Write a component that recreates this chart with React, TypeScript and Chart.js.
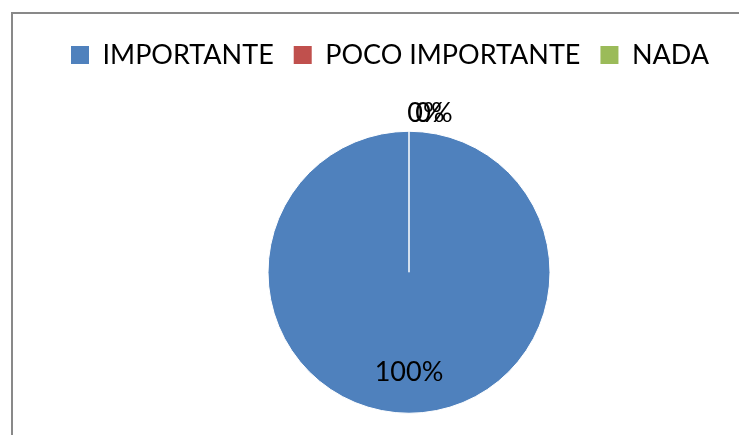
import React, { useEffect, useRef } from 'react';
import { Chart, registerables } from 'chart.js';
Chart.register(...registerables);

const categories = ['IMPORTANTE', 'POCO IMPORTANTE', 'NADA'];
const values = [100, 0, 0];
const colors = ['#4F81BD', '#C0504D', '#9BBB59'];
const FONT = 'Lato, "Open Sans", sans-serif';

const labelPlugin = {
  id: 'pctLabels',
  afterDatasetsDraw(chart: any) {
    const ctx = chart.ctx;
    const meta = chart.getDatasetMeta(0);
    const data = chart.data.datasets[0].data as number[];
    const total = data.reduce((a, b) => a + b, 0);
    ctx.save();
    ctx.font = `27px ${FONT}`;
    ctx.fillStyle = '#000';
    ctx.textAlign = 'center';
    ctx.textBaseline = 'middle';
    let zeroIdx = 0;
    meta.data.forEach((el: any, i: number) => {
      const { x, y, startAngle, endAngle, outerRadius } = el.getProps(
        ['x', 'y', 'startAngle', 'endAngle', 'outerRadius'],
        true
      );
      const v = data[i];
      const txt = Math.round((v / total) * 100) + '%';
      if (v > 0) {
        const mid = (startAngle + endAngle) / 2;
        const r = outerRadius * 0.71;
        ctx.fillText(txt, x + Math.cos(mid) * r, y + Math.sin(mid) * r);
      } else {
        const r = outerRadius + 18;
        ctx.fillText(txt, x + Math.cos(startAngle) * r + 17 + zeroIdx * 8, y + Math.sin(startAngle) * r);
        zeroIdx++;
      }
    });
    ctx.restore();
  },
};

export default function App() {
  const ref = useRef<HTMLCanvasElement>(null);
  useEffect(() => {
    if (!ref.current) return;
    const chart = new Chart(ref.current, {
      type: 'pie',
      data: {
        labels: categories,
        datasets: [
          {
            data: values,
            backgroundColor: colors,
            borderColor: '#ffffff',
            borderWidth: 1,
            radius: 141,
          },
        ],
      },
      options: {
        responsive: false,
        animation: false,
        devicePixelRatio: 1,
        layout: { padding: { left: 51, right: 0, top: 21.5, bottom: 0 } },
        plugins: {
          tooltip: { enabled: false },
          legend: {
            position: 'top',
            align: 'start',
            labels: {
              boxWidth: 18,
              boxHeight: 18,
              padding: 20,
              color: '#000',
              font: { family: FONT, size: 27 },
              generateLabels: (c: any) => {
                const base = (Chart as any).overrides.pie.plugins.legend.labels.generateLabels(c);
                return base.map((it: any) => ({ ...it, lineWidth: 0, strokeStyle: 'transparent' }));
              },
            },
          },
        },
      } as any,
      plugins: [labelPlugin],
    });
    return () => chart.destroy();
  }, []);
  return (
    <div
      style={{
        position: 'fixed',
        left: 0,
        top: 0,
        width: 739,
        height: 435,
        overflow: 'hidden',
        background: '#fff',
      }}
    >
      <div
        style={{
          position: 'absolute',
          left: 11,
          top: 12,
          width: 1000,
          height: 1000,
          borderLeft: '2px solid #898989',
          borderTop: '2px solid #898989',
        }}
      />
      <canvas
        ref={ref}
        width={767}
        height={466}
        style={{ position: 'absolute', left: 0, top: 0, width: 767, height: 466 }}
      />
    </div>
  );
}
